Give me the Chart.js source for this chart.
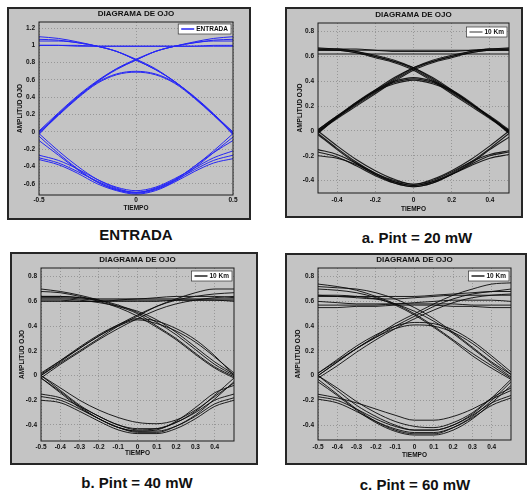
<!DOCTYPE html>
<html>
<head>
<meta charset="utf-8">
<script src="https://cdn.jsdelivr.net/npm/chart.js@4.4.0/dist/chart.umd.min.js"></script>
<style>
  body { margin:0; background:#fff; width:529px; height:490px; position:relative; overflow:hidden; }
  .panel { position:absolute; background:#c4c4c4; border:2px solid #262626; box-sizing:border-box; }
  .panel div { position:absolute; left:0; top:0; right:0; bottom:0; }
  .cap { position:absolute; font:bold 15px "Liberation Sans", Arial, sans-serif; color:#111;
         line-height:18px; transform:translateX(-50%); white-space:nowrap; }
</style>
</head>
<body>

<div class="panel" style="left:7px;top:7px;width:244px;height:213px"><div><canvas id="g1"></canvas></div></div>
<div class="panel" style="left:285px;top:7px;width:238px;height:211px"><div><canvas id="g2"></canvas></div></div>
<div class="panel" style="left:10px;top:252px;width:248px;height:213px"><div><canvas id="g3"></canvas></div></div>
<div class="panel" style="left:285px;top:253px;width:242px;height:212px"><div><canvas id="g4"></canvas></div></div>

<div class="cap" style="left:136px;top:226px">ENTRADA</div>
<div class="cap" style="left:417px;top:229px">a. Pint = 20 mW</div>
<div class="cap" style="left:137px;top:474px">b. Pint = 40 mW</div>
<div class="cap" style="left:415px;top:476px">c. Pint = 60 mW</div>

<script>
// muestras de tiempo (un periodo de bit)
const tiempo = [-0.5, -0.4, -0.3, -0.2, -0.1, 0, 0.1, 0.2, 0.3, 0.4, 0.5];

// ENTRADA
const entradaTrazas = [
  [1.00, 1.00, 1.00, 0.99, 0.99, 0.99, 0.99, 0.99, 0.99, 0.99, 0.99],
  [1.00, 1.00, 0.99, 0.99, 0.99, 0.99, 0.99, 0.99, 0.99, 1.00, 1.00],
  [1.10, 1.08, 1.04, 0.99, 0.93, 0.83, 0.72, 0.58, 0.40, 0.20, -0.03],
  [1.07, 1.06, 1.03, 0.99, 0.93, 0.83, 0.72, 0.58, 0.40, 0.20, -0.03],
  [1.05, 1.05, 1.03, 0.99, 0.93, 0.84, 0.73, 0.58, 0.41, 0.21, -0.01],
  [-0.03, 0.20, 0.40, 0.58, 0.72, 0.83, 0.93, 0.99, 1.04, 1.08, 1.10],
  [-0.01, 0.21, 0.41, 0.58, 0.73, 0.84, 0.93, 0.99, 1.03, 1.05, 1.05],
  [0.01, 0.22, 0.42, 0.59, 0.73, 0.83, 0.93, 0.99, 1.03, 1.06, 1.07],
  [0.00, 0.20, 0.40, 0.57, 0.67, 0.70, 0.67, 0.57, 0.40, 0.20, 0.00],
  [-0.02, 0.19, 0.39, 0.56, 0.66, 0.69, 0.66, 0.56, 0.39, 0.19, -0.02],
  [-0.02, -0.22, -0.40, -0.55, -0.65, -0.70, -0.65, -0.55, -0.40, -0.22, -0.02],
  [-0.05, -0.25, -0.43, -0.58, -0.67, -0.71, -0.67, -0.57, -0.42, -0.24, -0.06],
  [-0.10, -0.27, -0.44, -0.58, -0.67, -0.70, -0.66, -0.56, -0.40, -0.24, -0.10],
  [-0.27, -0.33, -0.43, -0.55, -0.64, -0.68, -0.64, -0.54, -0.42, -0.30, -0.22],
  [-0.30, -0.36, -0.46, -0.57, -0.66, -0.70, -0.66, -0.56, -0.44, -0.33, -0.27],
  [-0.32, -0.38, -0.48, -0.60, -0.68, -0.72, -0.68, -0.58, -0.46, -0.36, -0.31]
];

// a. Pint = 20 mW
const pint20Trazas = [
  [0.62, 0.62, 0.62, 0.62, 0.62, 0.62, 0.62, 0.62, 0.62, 0.62, 0.62],
  [0.65, 0.65, 0.65, 0.65, 0.65, 0.65, 0.65, 0.65, 0.65, 0.65, 0.65],
  [0.66, 0.66, 0.66, 0.65, 0.64, 0.64, 0.64, 0.64, 0.65, 0.66, 0.66],
  [0.67, 0.66, 0.64, 0.60, 0.56, 0.50, 0.41, 0.31, 0.21, 0.11, 0.00],
  [0.66, 0.65, 0.63, 0.59, 0.55, 0.49, 0.40, 0.30, 0.20, 0.10, -0.01],
  [0.65, 0.65, 0.63, 0.60, 0.56, 0.51, 0.42, 0.32, 0.22, 0.12, 0.01],
  [0.66, 0.66, 0.64, 0.61, 0.57, 0.51, 0.43, 0.33, 0.22, 0.11, -0.02],
  [0.00, 0.11, 0.21, 0.31, 0.41, 0.50, 0.56, 0.60, 0.64, 0.66, 0.67],
  [-0.01, 0.10, 0.20, 0.30, 0.40, 0.49, 0.55, 0.59, 0.63, 0.65, 0.66],
  [0.01, 0.12, 0.22, 0.32, 0.42, 0.51, 0.56, 0.60, 0.63, 0.65, 0.65],
  [-0.02, 0.11, 0.22, 0.33, 0.43, 0.51, 0.57, 0.61, 0.64, 0.66, 0.66],
  [0.00, 0.11, 0.22, 0.32, 0.39, 0.42, 0.39, 0.32, 0.22, 0.11, 0.00],
  [-0.01, 0.11, 0.23, 0.33, 0.40, 0.43, 0.40, 0.33, 0.23, 0.11, -0.01],
  [0.01, 0.12, 0.23, 0.32, 0.38, 0.41, 0.38, 0.32, 0.22, 0.11, 0.00],
  [0.00, -0.12, -0.23, -0.32, -0.39, -0.43, -0.39, -0.32, -0.23, -0.12, 0.00],
  [-0.02, -0.14, -0.25, -0.34, -0.41, -0.44, -0.41, -0.34, -0.25, -0.14, -0.02],
  [-0.03, -0.15, -0.26, -0.35, -0.42, -0.45, -0.42, -0.35, -0.26, -0.15, -0.05],
  [-0.15, -0.19, -0.26, -0.34, -0.40, -0.43, -0.40, -0.33, -0.25, -0.19, -0.16],
  [-0.17, -0.21, -0.28, -0.36, -0.42, -0.45, -0.42, -0.35, -0.27, -0.20, -0.17],
  [-0.20, -0.22, -0.27, -0.35, -0.41, -0.44, -0.41, -0.35, -0.28, -0.22, -0.19]
];

// b. Pint = 40 mW
const pint40Trazas = [
  [0.63, 0.63, 0.62, 0.61, 0.61, 0.61, 0.61, 0.61, 0.61, 0.61, 0.60],
  [0.61, 0.61, 0.60, 0.60, 0.60, 0.60, 0.60, 0.61, 0.61, 0.61, 0.61],
  [0.64, 0.64, 0.63, 0.62, 0.62, 0.62, 0.63, 0.64, 0.64, 0.64, 0.63],
  [0.60, 0.60, 0.60, 0.60, 0.61, 0.62, 0.62, 0.62, 0.62, 0.62, 0.62],
  [0.70, 0.68, 0.65, 0.61, 0.56, 0.50, 0.40, 0.30, 0.18, 0.07, -0.01],
  [0.68, 0.67, 0.64, 0.60, 0.55, 0.48, 0.39, 0.29, 0.17, 0.06, -0.02],
  [0.64, 0.64, 0.63, 0.61, 0.57, 0.51, 0.43, 0.33, 0.21, 0.09, 0.00],
  [0.62, 0.62, 0.61, 0.59, 0.56, 0.52, 0.45, 0.35, 0.23, 0.11, 0.01],
  [0.00, 0.10, 0.20, 0.30, 0.40, 0.48, 0.56, 0.62, 0.67, 0.70, 0.70],
  [0.02, 0.12, 0.22, 0.32, 0.41, 0.49, 0.56, 0.61, 0.64, 0.66, 0.67],
  [-0.02, 0.09, 0.19, 0.29, 0.38, 0.46, 0.53, 0.58, 0.61, 0.63, 0.64],
  [0.00, 0.11, 0.22, 0.32, 0.40, 0.45, 0.42, 0.36, 0.27, 0.15, 0.02],
  [0.01, 0.12, 0.23, 0.33, 0.41, 0.46, 0.44, 0.38, 0.29, 0.16, 0.00],
  [0.00, -0.12, -0.24, -0.33, -0.40, -0.44, -0.43, -0.38, -0.29, -0.16, -0.02],
  [-0.02, -0.14, -0.26, -0.35, -0.42, -0.46, -0.46, -0.41, -0.32, -0.19, -0.05],
  [-0.15, -0.18, -0.25, -0.33, -0.40, -0.43, -0.43, -0.38, -0.30, -0.20, -0.15],
  [-0.17, -0.20, -0.27, -0.35, -0.42, -0.45, -0.45, -0.41, -0.33, -0.23, -0.18],
  [-0.20, -0.22, -0.29, -0.37, -0.44, -0.47, -0.47, -0.43, -0.35, -0.25, -0.20],
  [0.00, -0.10, -0.20, -0.28, -0.34, -0.38, -0.39, -0.36, -0.28, -0.17, -0.06],
  [-0.02, -0.13, -0.25, -0.35, -0.42, -0.45, -0.44, -0.37, -0.26, -0.14, -0.08]
];

// c. Pint = 60 mW
const pint60Trazas = [
  [0.65, 0.64, 0.63, 0.62, 0.62, 0.63, 0.64, 0.65, 0.65, 0.65, 0.65],
  [0.60, 0.59, 0.58, 0.58, 0.58, 0.59, 0.60, 0.61, 0.61, 0.61, 0.60],
  [0.57, 0.57, 0.57, 0.57, 0.58, 0.58, 0.58, 0.58, 0.57, 0.57, 0.57],
  [0.55, 0.55, 0.56, 0.56, 0.57, 0.57, 0.57, 0.56, 0.56, 0.55, 0.55],
  [0.64, 0.64, 0.64, 0.64, 0.64, 0.64, 0.65, 0.66, 0.67, 0.68, 0.68],
  [0.74, 0.72, 0.69, 0.64, 0.58, 0.50, 0.40, 0.29, 0.18, 0.08, -0.02],
  [0.72, 0.71, 0.70, 0.67, 0.62, 0.55, 0.46, 0.35, 0.23, 0.11, 0.01],
  [0.70, 0.69, 0.67, 0.63, 0.57, 0.49, 0.39, 0.28, 0.16, 0.06, -0.03],
  [0.65, 0.65, 0.64, 0.62, 0.58, 0.52, 0.44, 0.34, 0.22, 0.10, -0.01],
  [0.00, 0.11, 0.22, 0.32, 0.42, 0.50, 0.58, 0.65, 0.70, 0.74, 0.75],
  [0.02, 0.12, 0.22, 0.31, 0.40, 0.48, 0.56, 0.62, 0.66, 0.68, 0.70],
  [-0.02, 0.08, 0.19, 0.29, 0.38, 0.46, 0.53, 0.59, 0.63, 0.65, 0.66],
  [0.00, 0.11, 0.22, 0.31, 0.38, 0.41, 0.40, 0.35, 0.26, 0.14, 0.01],
  [0.02, 0.13, 0.24, 0.33, 0.40, 0.43, 0.42, 0.37, 0.28, 0.16, 0.03],
  [0.00, -0.12, -0.24, -0.33, -0.40, -0.44, -0.44, -0.40, -0.31, -0.18, -0.03],
  [-0.03, -0.15, -0.27, -0.37, -0.44, -0.47, -0.47, -0.42, -0.33, -0.20, -0.05],
  [-0.05, -0.16, -0.28, -0.38, -0.45, -0.48, -0.48, -0.44, -0.35, -0.22, -0.08],
  [-0.15, -0.18, -0.22, -0.27, -0.32, -0.36, -0.36, -0.33, -0.27, -0.19, -0.12],
  [-0.17, -0.20, -0.27, -0.35, -0.41, -0.44, -0.44, -0.40, -0.32, -0.22, -0.16],
  [-0.19, -0.22, -0.29, -0.37, -0.43, -0.46, -0.46, -0.42, -0.34, -0.24, -0.18],
  [0.00, -0.10, -0.21, -0.30, -0.37, -0.41, -0.42, -0.38, -0.30, -0.18, -0.10]
];

// marcas de los ejes
const xMarcasEntrada = [-0.5, 0, 0.5];
const xMarcas20 = [-0.4, -0.2, 0, 0.2, 0.4];
const xMarcas4060 = [-0.5, -0.4, -0.3, -0.2, -0.1, 0, 0.1, 0.2, 0.3, 0.4];
const yMarcasEntrada = [-0.6, -0.4, -0.2, 0, 0.2, 0.4, 0.6, 0.8, 1, 1.2];
const yMarcas = [-0.4, -0.2, 0, 0.2, 0.4, 0.6, 0.8];

const titulo = 'DIAGRAMA DE OJO';
const leyendaEntrada = 'ENTRADA';
const leyendaFibra = '10 Km';

const fuente = '"Liberation Sans", Arial, sans-serif';

// marco del area, titulo y leyenda
const marco = {
  id: 'marco',
  afterDatasetsDraw(chart, args, o) {
    const ctx = chart.ctx;
    const a = chart.chartArea;
    ctx.save();
    ctx.strokeStyle = '#1a1a1a';
    ctx.lineWidth = 1;
    ctx.strokeRect(a.left, a.top, a.right - a.left, a.bottom - a.top);

    ctx.fillStyle = '#111';
    ctx.font = 'bold 8px ' + fuente;
    ctx.textAlign = 'center';
    ctx.textBaseline = 'middle';
    ctx.fillText(titulo, (a.left + a.right) / 2, a.top - 8);

    ctx.font = 'bold 6.5px ' + fuente;
    const tw = ctx.measureText(o.label).width;
    const w = tw + 21, h = 10;
    const x = a.right - 2 - w, y = a.top + o.dy;
    ctx.fillStyle = '#fff';
    ctx.fillRect(x, y, w, h);
    ctx.strokeStyle = '#333';
    ctx.lineWidth = 0.7;
    ctx.strokeRect(x, y, w, h);
    ctx.strokeStyle = o.color;
    ctx.lineWidth = 1.5;
    ctx.beginPath();
    ctx.moveTo(x + 3, y + h / 2);
    ctx.lineTo(x + 16, y + h / 2);
    ctx.stroke();
    ctx.fillStyle = '#111';
    ctx.textAlign = 'left';
    ctx.fillText(o.label, x + 18, y + h / 2 + 0.5);
    ctx.restore();
  }
};

function etiqueta(v) {
  const r = Math.round(v * 10) / 10;
  return r === 0 ? '0' : String(r);
}

function graficar(id, trazas, cfg) {
  const datasets = trazas.map(t => ({
    data: t.map((y, i) => ({ x: tiempo[i], y: y })),
    borderColor: cfg.color,
    borderWidth: cfg.ancho,
    pointRadius: 0,
    cubicInterpolationMode: 'monotone',
    fill: false
  }));
  const letra = { size: 6.5, weight: 'bold', family: fuente };
  new Chart(document.getElementById(id), {
    type: 'line',
    data: { datasets: datasets },
    plugins: [marco],
    options: {
      responsive: true,
      maintainAspectRatio: false,
      animation: false,
      events: [],
      layout: { padding: { left: 0, right: cfg.padR, top: cfg.padT, bottom: 0 } },
      plugins: {
        legend: { display: false },
        tooltip: { enabled: false },
        marco: { label: cfg.leyenda, color: cfg.colorLeyenda, dy: cfg.dyLeyenda }
      },
      scales: {
        x: {
          type: 'linear', min: -0.5, max: 0.5,
          afterBuildTicks: s => { s.ticks = cfg.xMarcas.map(v => ({ value: v })); },
          afterFit: s => { s.height = cfg.altoX; },
          ticks: { autoSkip: false, maxRotation: 0, padding: cfg.padTickX, color: '#111', font: letra,
                   callback: etiqueta },
          grid: { color: '#8c8c8c', lineWidth: 0.8, drawTicks: false },
          border: { display: false, dash: [1, 2] },
          title: { display: true, text: 'TIEMPO', color: '#111', font: letra,
                   padding: { top: 0, bottom: cfg.padTitX } }
        },
        y: {
          min: cfg.yMin, max: cfg.yMax,
          afterBuildTicks: s => { s.ticks = cfg.yMarcas.map(v => ({ value: v })); },
          afterFit: s => { s.width = cfg.anchoY; },
          ticks: { autoSkip: false, padding: 4, color: '#111', font: letra, callback: etiqueta },
          grid: { color: '#8c8c8c', lineWidth: 0.8, drawTicks: false },
          border: { display: false, dash: [1, 2] },
          title: { display: true, text: 'AMPLITUD OJO', color: '#111', font: letra,
                   padding: { top: cfg.padTitY, bottom: 0 } }
        }
      }
    }
  });
}

graficar('g1', entradaTrazas, {
  color: '#2626f5', ancho: 1, leyenda: leyendaEntrada, colorLeyenda: '#2626f5', dyLeyenda: 2,
  yMin: -0.73, yMax: 1.27, xMarcas: xMarcasEntrada, yMarcas: yMarcasEntrada,
  anchoY: 30, padR: 16, padT: 13, altoX: 23, padTickX: 1, padTitX: 6, padTitY: 7
});
graficar('g2', pint20Trazas, {
  color: 'rgba(10,10,10,0.9)', ancho: 1.1, leyenda: leyendaFibra, colorLeyenda: '#777', dyLeyenda: 4,
  yMin: -0.5, yMax: 0.87, xMarcas: xMarcas20, yMarcas: yMarcas,
  anchoY: 31, padR: 12, padT: 14, altoX: 23, padTickX: 3, padTitX: 3, padTitY: 9
});
graficar('g3', pint40Trazas, {
  color: 'rgba(10,10,10,0.9)', ancho: 1, leyenda: leyendaFibra, colorLeyenda: '#222', dyLeyenda: 3,
  yMin: -0.53, yMax: 0.87, xMarcas: xMarcas4060, yMarcas: yMarcas,
  anchoY: 29, padR: 22, padT: 14, altoX: 22, padTickX: 2, padTitX: 6, padTitY: 6
});
graficar('g4', pint60Trazas, {
  color: 'rgba(10,10,10,0.9)', ancho: 1, leyenda: leyendaFibra, colorLeyenda: '#222', dyLeyenda: 3,
  yMin: -0.52, yMax: 0.87, xMarcas: xMarcas4060, yMarcas: yMarcas,
  anchoY: 31, padR: 14, padT: 13, altoX: 23, padTickX: 3, padTitX: 4, padTitY: 7
});
</script>
</body>
</html>
